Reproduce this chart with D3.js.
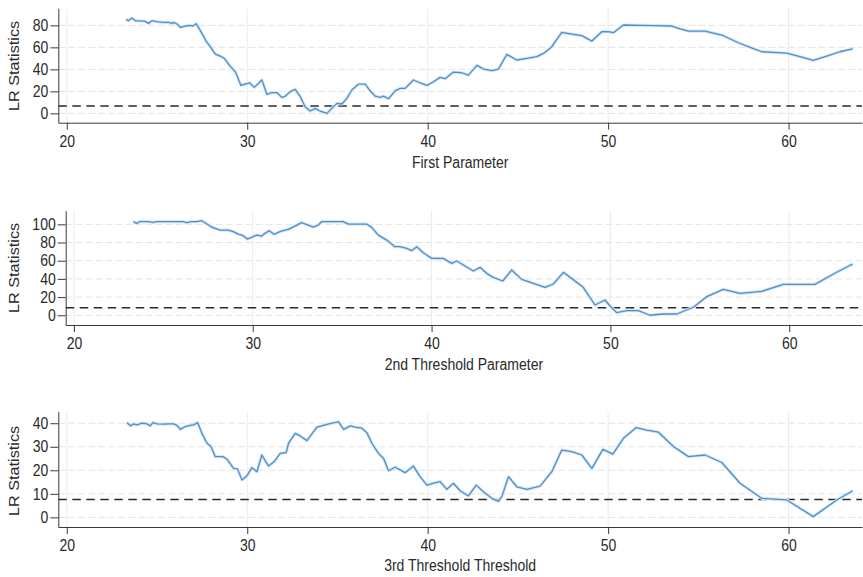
<!DOCTYPE html>
<html><head><meta charset="utf-8">
<script src="https://cdn.jsdelivr.net/npm/d3@7"></script>
<style>body{margin:0;background:#fff}svg{display:block}text{font-family:"Liberation Sans",Arial,sans-serif}</style>
</head><body><svg id="c" width="863" height="577"></svg>
<script>
// ---------- data ----------
const xTicks = [20, 30, 40, 50, 60];
const yTicks1 = [0, 20, 40, 60, 80];
const yTicks2 = [0, 20, 40, 60, 80, 100];
const yTicks3 = [0, 10, 20, 30, 40];
const xTitles = ["First Parameter", "2nd Threshold Parameter", "3rd Threshold Threshold"];
const yTitle = "LR Statistics";
const critVals = [6.6, 8.4, 7.6];

const firstX = [23.28,23.42,23.60,23.80,24.07,24.35,24.53,24.72,25.00,25.36,
25.64,25.83,25.92,26.11,26.29,26.57,26.84,26.99,27.17,27.36,
27.55,27.73,27.95,28.23,28.50,28.73,29.02,29.34,29.46,29.65,
29.89,30.13,30.39,30.63,30.81,31.09,31.37,31.65,31.92,32.12,
32.38,32.66,32.94,33.21,33.49,33.77,34.04,34.42,34.69,34.97,
35.25,35.52,35.80,36.17,36.54,36.81,37.09,37.37,37.55,37.83,
38.20,38.48,38.75,39.21,39.58,39.96,40.32,40.69,40.97,41.43,
41.89,42.26,42.73,43.09,43.56,43.92,44.39,44.94,45.50,46.05,
46.42,46.88,47.16,47.43,47.89,48.54,49.10,49.65,50.02,50.29,
50.85,51.77,52.70,53.53,53.99,54.45,55.37,56.30,57.22,57.87,
58.51,59.16,59.90,60.64,61.37,62.12,62.85,63.56];
const firstLR = [85.4,84.2,86.6,84.2,84.0,83.6,81.8,84.2,83.3,82.7,
82.7,81.8,82.7,81.2,78.2,79.4,80.0,79.4,81.5,76.3,
70.9,65.4,60.6,53.9,52.1,50.0,43.6,37.8,33.3,25.4,
26.6,27.8,23.6,27.3,30.3,17.3,18.8,18.8,14.5,15.7,
19.7,21.8,15.1,6.0,2.1,4.5,2.1,0.0,4.5,9.1,
8.5,13.6,21.2,26.6,26.6,20.5,15.7,14.5,15.7,13.3,
20.5,22.7,22.7,30.3,27.8,25.4,28.7,32.7,31.5,37.5,
36.9,34.8,43.6,40.3,38.8,40.3,53.6,48.5,50.0,51.5,
54.5,60.6,67.3,73.6,72.3,70.6,65.7,74.2,74.2,73.3,
80.3,80.0,79.7,79.4,76.9,74.8,74.8,71.2,64.2,60.0,
56.0,55.4,54.8,51.5,48.2,52.1,56.0,58.7];

const secondX = [23.32,23.51,23.69,24.16,24.44,24.62,24.99,25.37,25.74,26.11,
26.30,26.58,26.86,27.14,27.33,27.61,27.79,28.17,28.63,28.91,
29.19,29.47,29.69,29.94,30.22,30.50,30.68,30.92,31.19,31.52,31.80,
31.99,32.36,32.73,33.10,33.38,33.66,33.85,34.32,35.06,35.34,
35.90,36.37,36.65,37.02,37.49,37.95,38.23,38.61,38.89,39.17,
39.54,40.01,40.65,41.12,41.40,41.87,42.33,42.71,43.08,43.45,
43.98,44.48,45.04,45.69,46.34,46.81,47.37,47.90,
48.48,49.14,49.70,49.98,50.35,50.91,51.56,52.21,52.96,53.71,
54.36,54.64,55.39,56.31,57.25,58.46,59.67,61.44,62.47,63.55];
const secondLR = [102.9,101.1,102.9,102.9,102.2,102.9,102.9,102.9,102.9,102.9,
101.8,102.9,102.9,104.0,101.8,98.1,96.3,93.7,93.7,91.9,
89.3,87.5,83.8,85.7,88.2,87.1,90.1,93.0,89.0,91.9,93.7,
94.5,98.1,101.8,99.2,97.0,99.2,102.9,102.9,102.9,100.3,
100.3,100.3,96.7,88.2,82.7,75.4,75.4,73.6,71.0,75.4,
68.8,62.6,62.6,57.1,59.7,54.2,48.7,52.7,46.1,41.7,
37.7,49.8,39.5,35.1,30.7,34.4,47.2,39.5,
30.7,11.3,16.8,10.2,2.9,5.1,5.1,0.0,1.4,1.4,
6.6,8.8,20.5,28.5,24.1,26.3,34.0,34.0,45.4,56.4];

const thirdX = [23.33,23.52,23.70,23.89,24.17,24.44,24.63,24.78,25.00,25.36,
25.64,25.92,26.11,26.29,26.57,26.84,27.03,27.25,27.49,27.77,
27.99,28.23,28.65,28.88,29.24,29.46,29.71,29.98,30.26,30.54,
30.81,31.18,31.50,31.83,32.16,
32.29,32.66,32.94,33.31,33.86,34.32,34.69,35.06,35.34,35.71,
35.98,36.35,36.63,36.91,37.27,37.55,37.83,38.20,38.75,39.21,
39.58,39.96,40.32,40.69,41.06,41.43,41.80,42.26,42.69,43.19,
43.56,43.92,44.11,44.48,44.94,45.50,46.23,46.88,47.43,47.99,
48.54,49.10,49.71,50.26,50.85,51.55,52.14,52.79,53.62,54.45,
55.37,56.30,57.31,58.51,59.90,61.37,62.67,63.56];
const thirdLR = [40.3,38.9,39.7,39.3,40.0,39.7,38.9,40.3,39.7,39.6,
39.7,39.7,39.1,37.4,38.6,39.1,39.3,40.3,35.7,31.5,
30.1,25.8,25.8,24.7,20.8,20.6,15.9,17.6,21.1,19.4,
26.5,21.8,23.7,27.2,27.5,
31.5,35.7,34.6,32.6,38.3,39.3,40.0,40.6,37.4,38.9,
38.3,37.9,36.0,31.5,27.2,25.1,19.8,21.3,19.0,21.8,
17.3,13.7,14.5,15.2,11.9,14.5,11.3,9.1,13.7,10.2,
8.1,6.8,8.8,17.3,13.0,11.9,13.3,19.4,28.6,27.9,
26.5,20.8,28.9,26.9,33.6,38.1,37.1,36.2,30.1,25.8,
26.5,23.3,14.5,8.1,7.4,0.3,7.4,11.3];

// ---------- layout ----------
const SY = 1.16; // vertical text stretch seen in the reference
const panels = [
  {xs:firstX, ys:firstLR, yt:yTicks1, xd:[19.53,64.07], yd:[-8.5,95.5], left:58.3, right:862, top:8.3, bottom:122.7, title:xTitles[0], crit:critVals[0], titleBase:168, yTitleC:66},
  {xs:secondX, ys:secondLR, yt:yTicks2, xd:[19.54,64.07], yd:[-10.7,115], left:65.7, right:862, top:210.7, bottom:325, title:xTitles[1], crit:critVals[1], titleBase:369.5, yTitleC:268},
  {xs:thirdX, ys:thirdLR, yt:yTicks3, xd:[19.53,64.07], yd:[-4.1,44.9], left:58.3, right:862, top:411.7, bottom:527, title:xTitles[2], crit:critVals[2], titleBase:571, yTitleC:471}
];

const svg = d3.select("#c");
svg.append("rect").attr("width",863).attr("height",577).attr("fill","#fff");

panels.forEach(p => {
  const x = d3.scaleLinear().domain(p.xd).range([p.left, p.right]);
  const y = d3.scaleLinear().domain(p.yd).range([p.bottom, p.top]);
  const g = svg.append("g");

  // vertical grid
  g.append("g").selectAll("line").data(xTicks).join("line")
    .attr("x1", d => x(d)).attr("x2", d => x(d))
    .attr("y1", p.top).attr("y2", p.bottom)
    .attr("stroke", "#ececec").attr("stroke-width", 1);
  // horizontal grid
  g.append("g").selectAll("line").data(p.yt).join("line")
    .attr("x1", p.left).attr("x2", p.right)
    .attr("y1", d => y(d)).attr("y2", d => y(d))
    .attr("stroke", "#e4e4e4").attr("stroke-width", 1)
    .attr("stroke-dasharray", "7,3");

  // critical value line
  g.append("line")
    .attr("x1", p.left).attr("x2", p.right)
    .attr("y1", y(p.crit)).attr("y2", y(p.crit))
    .attr("stroke", "#2a2a2a").attr("stroke-width", 1.5)
    .attr("stroke-dasharray", "8.5,5.5");

  // series
  const pts = p.xs.map((v, i) => [v, p.ys[i]]);
  const line = d3.line().x(d => x(d[0])).y(d => y(d[1]));
  g.append("path").datum(pts).attr("d", line)
    .attr("fill", "none").attr("stroke", "#d4e6f6").attr("stroke-width", 3.2).attr("stroke-linejoin","round");
  g.append("path").datum(pts).attr("d", line)
    .attr("fill", "none").attr("stroke", "#4f8fcb").attr("stroke-width", 1.3).attr("stroke-linejoin","round");

  // x axis
  const xa = g.append("g").attr("transform", `translate(0,${p.bottom})`)
    .call(d3.axisBottom(x).tickValues(xTicks).tickFormat(d3.format("d")).tickSize(7).tickSizeOuter(0));
  // y axis
  const ya = g.append("g").attr("transform", `translate(${p.left},0)`)
    .call(d3.axisLeft(y).tickValues(p.yt).tickFormat(d3.format("d")).tickSize(8).tickPadding(2).tickSizeOuter(0));
  [xa, ya].forEach(a => {
    a.select(".domain").attr("stroke", "#3a3a3a");
    a.selectAll(".tick line").attr("stroke", "#3a3a3a");
    a.selectAll(".tick text").attr("fill", "#2a2a2a").style("font-size", "14px")
      .style("font-family", '"Liberation Sans", Arial, sans-serif');
  });
  xa.selectAll(".tick text").attr("y", 12.3 / SY).attr("transform", `scale(1,${SY})`);
  ya.selectAll(".tick text").attr("transform", `scale(1,${SY})`);

  // x title
  svg.append("g").attr("transform", `translate(${(p.left + p.right) / 2},${p.titleBase}) scale(1,${SY})`)
    .append("text").attr("text-anchor", "middle").attr("fill", "#2a2a2a")
    .style("font-size", "14px").text(p.title);
  // y title
  svg.append("g").attr("transform", `translate(18.5,${p.yTitleC}) scale(1,${SY}) rotate(-90)`)
    .append("text").attr("text-anchor", "middle").attr("fill", "#2a2a2a")
    .style("font-size", "14px").text(yTitle);
});
</script>
</body></html>
